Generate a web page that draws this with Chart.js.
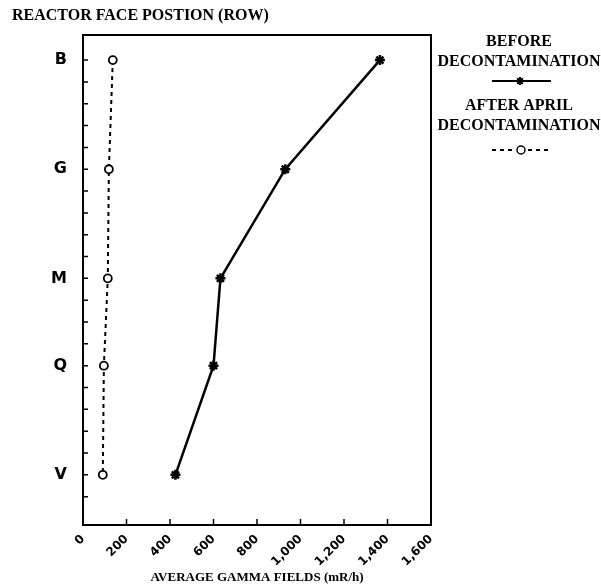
<!DOCTYPE html>
<html>
<head>
<meta charset="utf-8">
<script src="https://cdn.jsdelivr.net/npm/chart.js@4"></script>
<style>
  body{ margin:0; background:#fff; }
  canvas{ display:block; }
</style>
</head>
<body>
<canvas id="chart" width="601" height="588"></canvas>
<script>
// reactor face rows, top to bottom, and where they sit on the axis (minor tick units)
const rows = ["B", "G", "M", "Q", "V"];
const rowPos = [19, 14, 9, 5, 0];
// average gamma fields, mR/h
const before = [1365, 930, 632, 600, 425];
const after = [137, 119, 114, 96, 91];
const xTicks = [0, 200, 400, 600, 800, 1000, 1200, 1400, 1600];

const serif = "'Liberation Serif', 'DejaVu Serif', serif";
const sans = "'DejaVu Sans', 'Liberation Sans', sans-serif";

const pts = (vals)=>vals.map((v,i)=>({ x:v, y:rowPos[i] }));

// box, inward ticks, title and legend
const frame = {
  id: "frame",
  afterDraw(c){
    const ctx = c.ctx, a = c.chartArea;
    const xs = c.scales.x, ys = c.scales.y;
    ctx.save();
    ctx.strokeStyle = "#000";
    ctx.lineWidth = 2;
    ctx.strokeRect(a.left, a.top, a.right - a.left, a.bottom - a.top);

    ctx.lineWidth = 1.5;
    ctx.beginPath();
    xs.ticks.forEach(t=>{
      const px = xs.getPixelForValue(t.value);
      ctx.moveTo(px, a.bottom); ctx.lineTo(px, a.bottom - 6);
    });
    ys.ticks.forEach(t=>{
      if (!Number.isInteger(t.value) || t.value > 19 || t.value < -1) return;
      const py = ys.getPixelForValue(t.value);
      ctx.moveTo(a.left, py); ctx.lineTo(a.left + 5, py);
    });
    ctx.stroke();

    ctx.fillStyle = "#000";
    ctx.textBaseline = "middle";
    ctx.textAlign = "left";
    ctx.font = "bold 16px " + serif;
    ctx.fillText("REACTOR FACE POSTION (ROW)", 12, 16);

    // legend
    const cx = 519;
    ctx.textAlign = "center";
    ctx.font = "bold 16px " + serif;
    ctx.fillText("BEFORE", cx, 42);
    ctx.fillText("DECONTAMINATION", cx, 62);
    ctx.fillText("AFTER APRIL", cx, 106);
    ctx.fillText("DECONTAMINATION", cx, 126);

    ctx.lineWidth = 2;
    ctx.beginPath();
    ctx.moveTo(492, 81); ctx.lineTo(551, 81);
    ctx.stroke();
    Chart.helpers.drawPoint(ctx, { pointStyle:"star", radius:4, borderWidth:2 }, 520, 81);

    ctx.setLineDash([4, 4]);
    ctx.beginPath();
    ctx.moveTo(492, 150); ctx.lineTo(514, 150);
    ctx.moveTo(528, 150); ctx.lineTo(552, 150);
    ctx.stroke();
    ctx.setLineDash([]);
    ctx.fillStyle = "#fff";
    ctx.lineWidth = 1.5;
    Chart.helpers.drawPoint(ctx, { pointStyle:"circle", radius:4, borderWidth:1.5 }, 521, 150);
    ctx.restore();
  }
};

new Chart(document.getElementById("chart"), {
  type: "line",
  data: {
    datasets: [
      {
        label: "BEFORE DECONTAMINATION",
        data: pts(before),
        borderColor: "#000",
        backgroundColor: "#000",
        borderWidth: 2.5,
        pointStyle: "star",
        pointRadius: 5,
        pointBorderWidth: 2.5,
        pointBorderColor: "#000",
        tension: 0
      },
      {
        label: "AFTER APRIL DECONTAMINATION",
        data: pts(after),
        borderColor: "#000",
        borderWidth: 2,
        borderDash: [4, 4],
        pointStyle: "circle",
        pointRadius: 4,
        pointBorderWidth: 1.8,
        pointBorderColor: "#000",
        pointBackgroundColor: "#fff",
        tension: 0
      }
    ]
  },
  options: {
    responsive: false,
    animation: false,
    layout: { padding: { left: 0, top: 35, right: 170, bottom: 0 } },
    plugins: { legend: { display:false }, tooltip: { enabled:false } },
    scales: {
      x: {
        type: "linear",
        min: 0, max: 1600,
        afterBuildTicks: (s)=>{ s.ticks = xTicks.map(v=>({ value:v })); },
        afterFit: (s)=>{ s.height = 63; },
        grid: { display:false, drawTicks:false },
        border: { display:false },
        ticks: {
          minRotation: 45, maxRotation: 45,
          padding: 7,
          color: "#000",
          font: { family: sans, weight: "bold", size: 12 },
          callback: (v)=>Number(v).toLocaleString("en-US")
        },
        title: {
          display: true,
          text: "AVERAGE GAMMA FIELDS (mR/h)",
          color: "#000",
          font: { family: serif, weight: "bold", size: 13 },
          padding: { top: 0, bottom: 3 }
        }
      },
      y: {
        type: "linear",
        min: -2.3, max: 20.15,
        afterFit: (s)=>{ s.width = 83; },
        grid: { display:false, drawTicks:false },
        border: { display:false },
        ticks: {
          stepSize: 1,
          autoSkip: false,
          padding: 16,
          color: "#000",
          font: { family: sans, weight: "bold", size: 16 },
          callback: (v)=>{
            const i = rowPos.indexOf(v);
            return i >= 0 ? rows[i] : "";
          }
        }
      }
    }
  },
  plugins: [frame]
});
</script>
</body>
</html>
